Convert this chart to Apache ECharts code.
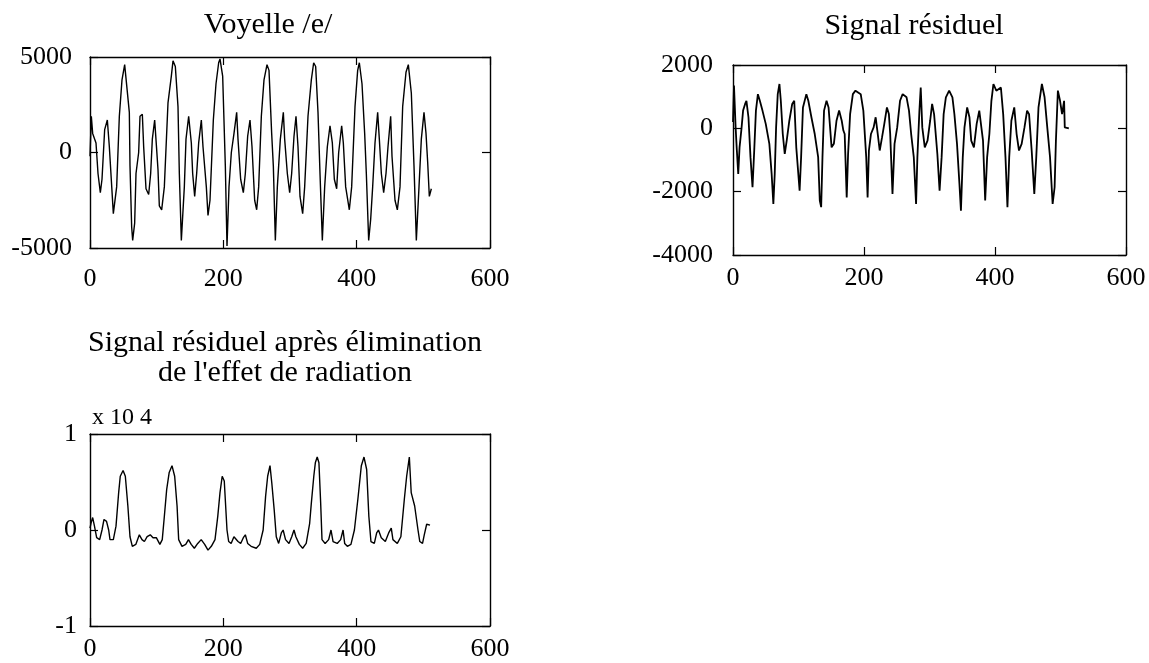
<!DOCTYPE html>
<html><head><meta charset="utf-8">
<script src="https://cdn.jsdelivr.net/npm/echarts@6/dist/echarts.min.js"></script>
<style>html,body{margin:0;padding:0;background:#fff}#c{width:1149px;height:663px}</style>
</head><body><div id="c"></div>
<script>
// ---- Data ----
const titles = ['Voyelle /e/', 'Signal résiduel', 'Signal résiduel après élimination\nde l\'effet de radiation'];
const xTicks = [0, 200, 400, 600];
const yTicks1 = [-5000, 0, 5000];
const yTicks2 = [-4000, -2000, 0, 2000];
const yTicks3 = [-1, 0, 1];
const scaleNote = 'x 10 4';

// Voyelle /e/
const voyX = [0,2,4,9,12,15.5,18,22,26,29,35,40,44,48,52,55,59,60,62.5,64,67,69,73,75,78.5,80.5,84,88,91,93.5,97,100,102,104,107.5,111.5,117,122,124.5,128,132,134,137,141.5,144,148,150,152,154,157,160,163,167,169.5,174.5,177,180,185,189,193,195,199,203,205.5,208.5,212,216,220,222,226,230,233,236.5,240,243,247,250,253,257,261,265.5,268.5,272.5,275,278,281,285.5,290,292,296,299.5,302.5,306,309,312,315,319,322,327,332,335.5,338.5,342,345,348.5,352,356,360,363.5,366.5,370,373,377.5,380,383.5,389,392.5,397.5,401.5,404,408,412,414.5,418,421,424,427.5,431.5,434,437,440.5,444,447,451,453,457.5,461,465,469,474,477.5,482,486,489.5,493.5,497,501,504,506.5,509,512];
const voyY = [-200,1900,1000,500,-1100,-2100,-1400,1200,1700,300,-3200,-1800,1900,3800,4600,4600,2100,-700,-3900,-4600,-3700,-1100,0,1900,2000,300,-1900,-2200,-1100,700,1700,150,-900,-2800,-3000,-1800,2600,4000,4800,4500,2400,-1100,-4600,-1800,700,1900,1800,500,-1100,-2300,-1100,500,1700,300,-1800,-3300,-2500,1700,3600,4700,4900,4000,-700,-4900,-1800,0,1000,2100,700,-1400,-2100,-1100,850,1700,300,-2500,-3000,-1800,1900,3800,4600,4300,1000,-700,-4600,-1800,700,2100,700,-1100,-2100,-1100,850,1900,300,-2300,-3200,-1800,1900,3800,4700,4500,2100,-1100,-4600,-1800,300,1400,500,-1400,-1900,0,1400,500,-1800,-3000,-1800,2400,4300,4700,3600,1000,-1100,-4600,-3500,-1800,500,2100,700,-1100,-2100,-1100,300,1900,-200,-2500,-3000,-1800,2400,4200,4600,3100,-700,-4600,-1800,700,2100,1000,-500,-2300,-1900];

// Signal résiduel
const resX = [0,1.5,4,5.6,8,10,13,15.4,18.5,20.5,23.6,26.7,29.8,32.4,35,38,41,45,50,55.5,59,61.6,63.7,65.8,68.3,70.9,73,76,79,82,86,90.4,93.5,96.6,101.7,104,106.8,112,115,119.7,124.8,130,132.5,134.6,136.6,139,142.8,145.9,150.5,154,158,162,166,168.5,170.5,173.6,175.7,178.8,183,187,195,199,203.4,205.5,207.5,210.6,214.7,217.8,221,224,227.6,231,235,238,240,243.5,246.6,250.7,255,259,265,268.7,272,276,279.5,281.5,284.6,286.6,289,292.8,297,301,304,307,312,315.4,318.5,321.6,325,330,335,338,342,345.7,348,350.8,353.4,357.5,361,363.7,367.8,372,376,379,381.7,385,388,391.4,394.5,397.6,402,409,412.5,416,419,421.7,425,429.4,433,436.6,440.7,445,449,452,456,460,463,466.4,471.6,475.7,479.8,484,488,491,493,496,499.3,502.4,505.5,506.5,512.7];
const resY = [200,1350,30,-600,-1440,-600,0,560,770,870,350,-910,-1860,-700,560,1080,870,560,140,-490,-1440,-2390,-1440,30,1080,1400,870,-180,-810,-390,240,770,870,-600,-1970,-910,660,1080,870,350,-180,-910,-2280,-2490,-910,560,870,660,-600,-490,240,560,240,-70,-180,-2180,-810,450,1080,1190,1080,560,-910,-2180,-700,-180,30,350,-180,-700,-280,140,660,450,-180,-2070,-490,30,870,1080,980,560,-180,-910,-2390,-910,560,1290,30,-600,-390,240,770,450,-810,-1970,-910,450,980,1190,980,450,-490,-1760,-2600,-910,30,660,350,-390,-600,140,560,560,-390,-2280,-910,-180,870,1400,1190,1290,450,-910,-2490,-910,240,660,-180,-700,-490,30,560,450,-700,-2070,-910,660,1400,980,30,-910,-2390,-1860,-390,1190,870,450,870,30,0];

// Signal résiduel après élimination de l'effet de radiation (x 10^4)
const radX = [0,1.5,4,6.7,10,14.5,18,21,24.8,28,30,35,39,43,45.4,49.6,53,56.8,60,63.5,68.7,74,78,81.6,85.7,90.4,94.5,99.5,104.8,108.4,111.5,115,118.8,123,127,130.6,133,138,143.6,147.7,151.8,156.5,161.6,166.8,172,177,182,187.5,191.6,195,198.3,201.4,205.5,208,211.7,215.9,218.4,222,226,230,233,236.5,241.7,249.4,254.6,259.7,263.4,266.5,270,272.7,276.3,279.4,283,287,289.7,293.3,298.5,302.6,306,308.8,314,319,324.3,329.5,332,335.7,338,340.8,343.4,346,348,352.7,358,361.5,364.6,370.8,376,379.6,382,386,391.4,396.6,401.8,407,411,415,418.3,421.4,426.5,430,432.7,436.9,443,448,451.9,454.4,461,466.3,471.5,475,479,481.8,487,492,494.7,498.8,501.4,505,510];
const radY = [0.02,0.07,0.13,0.04,-0.08,-0.10,0.0,0.11,0.09,0.0,-0.10,-0.10,0.04,0.39,0.56,0.62,0.56,0.25,-0.07,-0.17,-0.15,-0.05,-0.10,-0.12,-0.07,-0.05,-0.08,-0.08,-0.15,-0.10,0.14,0.42,0.60,0.67,0.56,0.25,-0.10,-0.17,-0.15,-0.10,-0.15,-0.19,-0.14,-0.10,-0.15,-0.21,-0.17,-0.10,0.14,0.39,0.56,0.51,0.0,-0.12,-0.14,-0.07,-0.05,-0.12,-0.14,-0.08,-0.05,-0.14,-0.17,-0.19,-0.15,0.0,0.35,0.56,0.67,0.49,0.21,-0.07,-0.14,-0.03,0.0,-0.10,-0.14,-0.07,0.0,-0.07,-0.15,-0.19,-0.14,0.07,0.28,0.56,0.70,0.76,0.70,0.28,-0.10,-0.14,-0.10,0.0,-0.12,-0.14,-0.10,0.0,-0.14,-0.17,-0.15,0.0,0.32,0.67,0.76,0.63,0.14,-0.12,-0.14,-0.03,0.0,-0.08,-0.12,-0.03,0.02,-0.10,-0.14,-0.07,0.32,0.56,0.76,0.39,0.25,0.0,-0.12,-0.14,-0.05,0.06,0.05];

// ---- Chart ----
const FONT = '"Liberation Serif", "DejaVu Serif", serif';
const zip = (xs, ys) => xs.map((x, i) => [x, ys[i]]);
const grids = [
  {left: 90, top: 57, width: 400, height: 191},
  {left: 733, top: 65, width: 393, height: 190},
  {left: 90, top: 434, width: 400, height: 192}
];
const yTicks = [yTicks1, yTicks2, yTicks3];
const xLabelMargin = [18, 10, 10];
const yLabelMargin = [18, 20, 13];
const line = {show: true, onZero: false, lineStyle: {color: '#000', width: 1.4}};
const tick = {show: true, inside: true, length: 8, lineStyle: {color: '#000', width: 1.2}};
const plain = v => String(v);
const xAxes = [], yAxes = [];
grids.forEach((g, i) => {
  const yt = yTicks[i];
  const xmin = xTicks[0], xmax = xTicks[xTicks.length - 1];
  const ymin = yt[0], ymax = yt[yt.length - 1];
  const xi = xTicks[1] - xTicks[0], yi = yt[1] - yt[0];
  xAxes.push({gridIndex: i, type: 'value', position: 'bottom', min: xmin, max: xmax, interval: xi,
    axisLine: line, axisTick: tick, splitLine: {show: false},
    axisLabel: {color: '#000', fontFamily: FONT, fontSize: 26, margin: xLabelMargin[i], formatter: plain}});
  xAxes.push({gridIndex: i, type: 'value', position: 'top', min: xmin, max: xmax, interval: xi,
    axisLine: line, axisTick: tick, splitLine: {show: false}, axisLabel: {show: false}});
  yAxes.push({gridIndex: i, type: 'value', position: 'left', min: ymin, max: ymax, interval: yi,
    axisLine: line, axisTick: tick, splitLine: {show: false},
    axisLabel: {color: '#000', fontFamily: FONT, fontSize: 26, margin: yLabelMargin[i], formatter: plain}});
  yAxes.push({gridIndex: i, type: 'value', position: 'right', min: ymin, max: ymax, interval: yi,
    axisLine: line, axisTick: tick, splitLine: {show: false}, axisLabel: {show: false}});
});
const seriesData = [zip(voyX, voyY), zip(resX, resY), zip(radX, radY)];
const series = seriesData.map((d, i) => ({
  type: 'line', xAxisIndex: i * 2, yAxisIndex: i * 2, data: d, showSymbol: false, symbol: 'none',
  lineStyle: {color: '#000', width: i === 1 ? 1.8 : 1.4}, silent: true
}));
const txt = (x, y, text, size, lh) => ({type: 'text', x, y, silent: true,
  style: {text, fill: '#000', font: size + 'px ' + FONT, align: 'center', verticalAlign: 'middle', lineHeight: lh || size}});
const chart = echarts.init(document.getElementById('c'), null, {renderer: 'canvas'});
chart.setOption({
  animation: false,
  backgroundColor: '#fff',
  grid: grids,
  xAxis: xAxes,
  yAxis: yAxes,
  series,
  graphic: [
    txt(268, 25, titles[0], 30),
    txt(914, 26, titles[1], 30),
    txt(285, 358, titles[2], 30, 30),
    txt(122, 418, scaleNote, 24)
  ]
});
</script>
</body></html>
